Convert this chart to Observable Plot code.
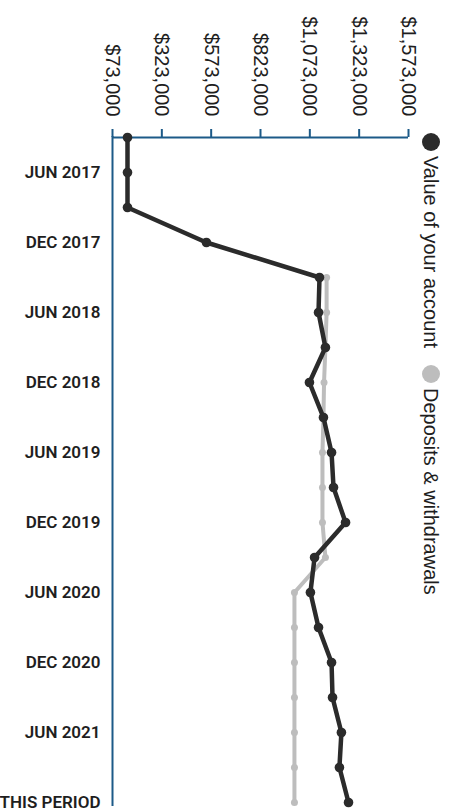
<!DOCTYPE html>
<html>
<head>
<meta charset="utf-8">
<script src="https://cdn.jsdelivr.net/npm/d3@7"></script>
<script src="https://cdn.jsdelivr.net/npm/@observablehq/plot@0.6"></script>
<style>
  html, body { margin: 0; padding: 0; background: #ffffff; }
  #chart { position: relative; width: 451px; height: 811px; overflow: hidden; }
  #legend {
    position: absolute; left: 442px; top: 133px;
    transform: rotate(90deg); transform-origin: 0 0;
    display: flex; align-items: center; height: 22px; white-space: nowrap;
    font: 20px "Liberation Sans", Arial, sans-serif; color: #1e1e1e;
  }
  #legend .dot { width: 18px; height: 18px; border-radius: 50%; margin-right: 5px; flex: none; }
  #legend .item { display: flex; align-items: center; margin-right: 17px; }
</style>
</head>
<body>
<div id="chart"></div>
<script>
// Statement periods, one per quarter
const periods = [
  "MAR 2017", "JUN 2017", "SEP 2017", "DEC 2017",
  "MAR 2018", "JUN 2018", "SEP 2018", "DEC 2018",
  "MAR 2019", "JUN 2019", "SEP 2019", "DEC 2019",
  "MAR 2020", "JUN 2020", "SEP 2020", "DEC 2020",
  "MAR 2021", "JUN 2021", "SEP 2021", "THIS PERIOD"
];

// Value of the account at each period end ($)
const accountValues = [
  149000, 149000, 149000, 549000,
  1122000, 1117000, 1152000, 1071000,
  1142000, 1183000, 1193000, 1254000,
  1097000, 1076000, 1117000, 1183000,
  1188000, 1233000, 1223000, 1269000
];

// Cumulative deposits & withdrawals ($); not tracked before 2018
const depositValues = [
  null, null, null, null,
  1158000, 1158000, 1152000, 1145000,
  1142000, 1137000, 1137000, 1137000,
  1152000, 995000, 995000, 995000,
  995000, 995000, 995000, 995000
];

// Axis ticks
const valueTicks = [73000, 323000, 573000, 823000, 1073000, 1323000, 1573000];
const periodTicks = [
  "JUN 2017", "DEC 2017", "JUN 2018", "DEC 2018", "JUN 2019",
  "DEC 2019", "JUN 2020", "DEC 2020", "JUN 2021", "THIS PERIOD"
];

// Legend
const seriesNames = ["Value of your account", "Deposits & withdrawals"];
const seriesColors = ["#2b2b2b", "#bdbdbd"];

const axisBlue = "#1c5a88";
const rows = periods.map((period, i) => ({
  period,
  value: accountValues[i],
  deposit: depositValues[i]
}));

const chart = Plot.plot({
  width: 451,
  height: 811,
  marginTop: 136,
  marginBottom: 8,
  marginLeft: 112,
  marginRight: 43,
  style: { background: "transparent", fontFamily: "'Liberation Sans', Arial, sans-serif", overflow: "visible" },
  x: { domain: [73000, 1573000], axis: null },
  y: { type: "point", domain: periods, padding: 0, axis: null },
  marks: [
    Plot.axisX(valueTicks, {
      anchor: "top",
      label: null,
      tickSize: 8,
      tickRotate: 90,
      tickPadding: 12,
      tickFormat: d3.format("$,"),
      stroke: axisBlue,
      strokeWidth: 2,
      fill: "#1e1e1e",
      fontSize: 20
    }),
    Plot.axisY(periodTicks, {
      anchor: "left",
      label: null,
      tickSize: 0,
      tickPadding: 12,
      fill: "#1e1e1e",
      fontSize: 17,
      fontWeight: 600,
      fontFamily: "Roboto, sans-serif"
    }),
    Plot.ruleY([periods[0]], { stroke: axisBlue, strokeWidth: 2 }),
    Plot.ruleX([73000], { stroke: axisBlue, strokeWidth: 2, insetBottom: -3 }),
    Plot.line(rows, { x: "deposit", y: "period", stroke: seriesColors[1], strokeWidth: 4 }),
    Plot.dot(rows, { x: "deposit", y: "period", r: 3.5, fill: seriesColors[1] }),
    Plot.line(rows, { x: "value", y: "period", stroke: seriesColors[0], strokeWidth: 4.5 }),
    Plot.dot(rows, { x: "value", y: "period", r: 4.8, fill: seriesColors[0] })
  ]
});

const container = document.getElementById("chart");
container.appendChild(chart);

const legend = document.createElement("div");
legend.id = "legend";
seriesNames.forEach((name, i) => {
  const item = document.createElement("span");
  item.className = "item";
  const dot = document.createElement("span");
  dot.className = "dot";
  dot.style.background = seriesColors[i];
  const label = document.createElement("span");
  label.textContent = name;
  item.appendChild(dot);
  item.appendChild(label);
  legend.appendChild(item);
});
container.appendChild(legend);
</script>
</body>
</html>
